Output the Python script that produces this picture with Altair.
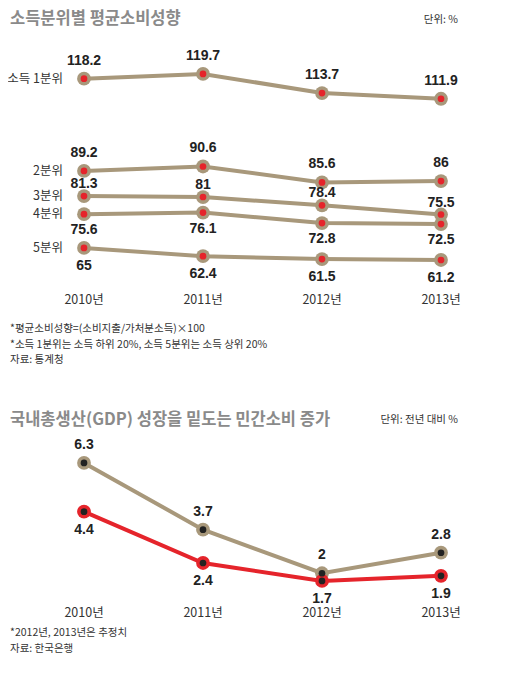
import altair as alt
import pandas as pd

# ---- data ----
years = ["2010년", "2011년", "2012년", "2013년"]
quintiles = ["소득 1분위", "2분위", "3분위", "4분위", "5분위"]
q1 = [118.2, 119.7, 113.7, 111.9]
q2 = [89.2, 90.6, 85.6, 86]
q3 = [81.3, 81, 78.4, 75.5]
q4 = [75.6, 76.1, 72.8, 72.5]
q5 = [65, 62.4, 61.5, 61.2]
gdp_growth = [6.3, 3.7, 2.0, 2.8]
consumption_growth = [4.4, 2.4, 1.7, 1.9]
series2 = ["국내총생산", "민간소비"]

title1 = "소득분위별 평균소비성향"
unit1 = "단위: %"
notes1 = ["*평균소비성향=(소비지출/가처분소득)×100",
          "*소득 1분위는 소득 하위 20%, 소득 5분위는 소득 상위 20%",
          "자료: 통계청"]
title2 = "국내총생산(GDP) 성장을 밑도는 민간소비 증가"
unit2 = "단위: 전년 대비 %"
notes2 = ["*2012년, 2013년은 추정치", "자료: 한국은행"]

# ---- styles ----
BEIGE = "#a8987b"
RED = "#e5242b"
DARK = "#222222"
TXT = "#333333"
GRAY = "#8a8a8a"
KR = "Noto Sans CJK KR"
NUM = "Liberation Sans"

def fmt(v):
    return f"{v:g}"

rows = []
for name, vals in zip(quintiles, [q1, q2, q3, q4, q5]):
    for y, v in zip(years, vals):
        rows.append({"연도": y, "분위": name, "값": v, "라벨": fmt(v)})
top = pd.DataFrame(rows)

rows = []
for name, vals in zip(series2, [gdp_growth, consumption_growth]):
    for y, v in zip(years, vals):
        rows.append({"연도": y, "지표": name, "값": v, "라벨": fmt(v)})
bot = pd.DataFrame(rows)

xenc = alt.X("연도:O", scale=alt.Scale(type="point", domain=years, range=[76, 433], padding=0), axis=None)
ytop = alt.Y("값:Q", scale=alt.Scale(domain=[60, 120], range=[255.8, 65.0], zero=False, nice=False), axis=None)
ybot = alt.Y("값:Q", scale=alt.Scale(domain=[1, 7], range=[590.9, 437.0], zero=False, nice=False), axis=None)

# ---- top chart ----
tbase = alt.Chart(top).encode(x=xenc, y=ytop)
t_lines = tbase.mark_line(color=BEIGE, strokeWidth=4).encode(detail="분위:N")
t_ring = tbase.mark_circle(color=BEIGE, size=190, opacity=1)
t_dot = tbase.mark_circle(color=RED, size=45, opacity=1)
label_dy = {"소득 1분위": -18, "2분위": -18, "3분위": -12, "4분위": 16, "5분위": 18}
t_labels = [
    tbase.transform_filter(alt.datum["분위"] == name)
    .mark_text(font=NUM, fontSize=14, fontWeight="bold", color=DARK, dy=dy)
    .encode(text="라벨:N")
    for name, dy in label_dy.items()
]
t_names = tbase.transform_filter(alt.datum["연도"] == years[0]).mark_text(
    font=KR, fontSize=12.5, color=TXT, align="right", baseline="middle", dx=-21
).encode(text="분위:N")
t_years = alt.Chart(pd.DataFrame({"연도": years})).mark_text(
    font=KR, fontSize=12.5, color=TXT
).encode(x=xenc, y=alt.value(292), text="연도:N")
top_chart = alt.layer(t_lines, t_ring, t_dot, *t_labels, t_names, t_years)

# ---- bottom chart ----
color2 = alt.Color("지표:N", scale=alt.Scale(domain=series2, range=[BEIGE, RED]), legend=None)
bbase = alt.Chart(bot).encode(x=xenc, y=ybot)
b_lines = bbase.mark_line(strokeWidth=4).encode(color=color2, detail="지표:N")
b_ring = bbase.mark_circle(size=190, opacity=1).encode(color=color2)
b_dot = bbase.mark_circle(color=DARK, size=45, opacity=1)
b_lab1 = bbase.transform_filter(alt.datum["지표"] == series2[0]).mark_text(
    font=NUM, fontSize=14, fontWeight="bold", color=DARK, dy=-18).encode(text="라벨:N")
b_lab2 = bbase.transform_filter(alt.datum["지표"] == series2[1]).mark_text(
    font=NUM, fontSize=14, fontWeight="bold", color=DARK, dy=18).encode(text="라벨:N")
b_years = alt.Chart(pd.DataFrame({"연도": years})).mark_text(
    font=KR, fontSize=12.5, color=TXT
).encode(x=xenc, y=alt.value(605), text="연도:N")
bot_chart = alt.layer(b_lines, b_ring, b_dot, b_lab1, b_lab2, b_years)

# ---- annotations ----
def note(text, x, y, align="left", size=10.5, color=TXT, weight="normal", baseline="middle", lh=None):
    kw = dict(font=KR, fontSize=size, color=color, fontWeight=weight, align=align, baseline=baseline)
    if lh:
        kw["lineHeight"] = lh
    return alt.Chart(pd.DataFrame({"t": [0]})).mark_text(**kw).encode(
        x=alt.value(x), y=alt.value(y), text=alt.value(text))

annos = alt.layer(
    note(title1, 2, 11, size=16.5, color=GRAY, weight="bold"),
    note(unit1, 450, 12, align="right", size=10.5),
    note(notes1, 2, 316, baseline="top", lh=15.5),
    note(title2, 2, 412, size=16.5, color=GRAY, weight="bold"),
    note(unit2, 450, 412, align="right", size=10.5),
    note(notes2, 2, 620, baseline="top", lh=15.5),
)

chart = alt.layer(top_chart, bot_chart, annos).resolve_scale(y="independent").properties(
    width=490, height=659,
    autosize=alt.AutoSizeParams(type="none"),
    padding={"left": 0, "top": 0, "right": 0, "bottom": 0},
    background="white",
).configure_view(stroke=None)

chart.save("out.html", embed_options={"renderer": "svg", "actions": False})
